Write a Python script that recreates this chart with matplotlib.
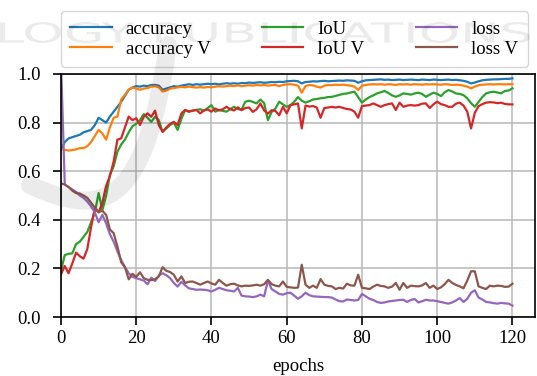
#!/usr/bin/env python3
"""Training curves (accuracy / IoU / loss, train and validation) over epochs."""

import matplotlib
matplotlib.use("Agg")
import matplotlib.pyplot as plt
from matplotlib.patches import PathPatch
from matplotlib.path import Path
from matplotlib.textpath import TextPath
from matplotlib.font_manager import FontProperties
import matplotlib.transforms as mtransforms

FIG_PX = (537, 376)
DPI = 100

# values, one per epoch 0..120
epochs = list(range(121))

accuracy = [
    0.69, 0.72, 0.735, 0.74, 0.745, 0.75, 0.76, 0.765, 0.77, 0.79,
    0.82, 0.81, 0.80, 0.825, 0.845, 0.865, 0.885, 0.91, 0.935, 0.945,
    0.95, 0.948, 0.952, 0.95, 0.955, 0.955, 0.952, 0.935, 0.94, 0.945,
    0.95, 0.948, 0.952, 0.955, 0.958, 0.955, 0.958, 0.956, 0.958, 0.96,
    0.958, 0.96, 0.957, 0.96, 0.962, 0.96, 0.962, 0.96, 0.963, 0.962,
    0.965, 0.963, 0.965, 0.966, 0.964, 0.965, 0.967, 0.966, 0.968, 0.967,
    0.97, 0.971, 0.972, 0.97, 0.961, 0.967, 0.968, 0.97, 0.969, 0.971,
    0.972, 0.97, 0.971, 0.972, 0.973, 0.972, 0.974, 0.973, 0.972, 0.964,
    0.97, 0.974, 0.975, 0.976, 0.977, 0.978, 0.976, 0.977, 0.975, 0.976,
    0.977, 0.975, 0.976, 0.977, 0.976, 0.975, 0.977, 0.976, 0.975, 0.977,
    0.976, 0.975, 0.976, 0.977, 0.975, 0.976, 0.974, 0.972, 0.968, 0.961,
    0.965, 0.97, 0.974, 0.976, 0.977, 0.978, 0.978, 0.979, 0.98, 0.98,
    0.982,
]

accuracy_v = [
    0.69, 0.688, 0.685, 0.687, 0.69, 0.695, 0.695, 0.703, 0.72, 0.745,
    0.77, 0.755, 0.73, 0.78, 0.82, 0.825, 0.895, 0.915, 0.935, 0.945,
    0.94, 0.935, 0.94, 0.942, 0.948, 0.95, 0.945, 0.928, 0.932, 0.94,
    0.942, 0.945, 0.947, 0.945, 0.948, 0.946, 0.944, 0.946, 0.944, 0.947,
    0.945, 0.948, 0.95, 0.948, 0.95, 0.952, 0.95, 0.953, 0.95, 0.952,
    0.954, 0.952, 0.955, 0.953, 0.955, 0.952, 0.954, 0.955, 0.95, 0.955,
    0.957, 0.958, 0.956, 0.952, 0.923, 0.95, 0.955, 0.953, 0.948, 0.944,
    0.952, 0.955, 0.954, 0.956, 0.955, 0.956, 0.954, 0.952, 0.948, 0.934,
    0.952, 0.955, 0.957, 0.958, 0.957, 0.958, 0.956, 0.958, 0.957, 0.955,
    0.958, 0.957, 0.958, 0.956, 0.958, 0.957, 0.956, 0.958, 0.957, 0.958,
    0.957, 0.956, 0.958, 0.957, 0.955, 0.956, 0.955, 0.952, 0.948, 0.941,
    0.948, 0.954, 0.956, 0.957, 0.958, 0.957, 0.958, 0.958, 0.957, 0.958,
    0.958,
]

iou = [
    0.19, 0.255, 0.26, 0.262, 0.30, 0.31, 0.33, 0.35, 0.39, 0.43,
    0.51, 0.44, 0.50, 0.585, 0.62, 0.68, 0.71, 0.73, 0.76, 0.785,
    0.795, 0.81, 0.835, 0.82, 0.803, 0.824, 0.81, 0.762, 0.776, 0.79,
    0.80, 0.77, 0.815, 0.852, 0.845, 0.85, 0.852, 0.855, 0.849, 0.86,
    0.872, 0.845, 0.852, 0.848, 0.845, 0.856, 0.865, 0.855, 0.854, 0.886,
    0.89, 0.885, 0.879, 0.895, 0.88, 0.81, 0.844, 0.858, 0.886, 0.875,
    0.865, 0.872, 0.886, 0.905, 0.89, 0.882, 0.888, 0.895, 0.897, 0.90,
    0.902, 0.905, 0.906, 0.91, 0.914, 0.918, 0.92, 0.924, 0.927, 0.905,
    0.882, 0.895, 0.905, 0.912, 0.92, 0.925, 0.93, 0.922, 0.912, 0.906,
    0.912, 0.92, 0.918, 0.915, 0.92, 0.923, 0.918, 0.906, 0.915, 0.923,
    0.918, 0.909, 0.925, 0.934, 0.928, 0.92, 0.918, 0.913, 0.90, 0.88,
    0.865, 0.885, 0.905, 0.92, 0.925, 0.927, 0.924, 0.92, 0.93, 0.932,
    0.941,
]

iou_v = [
    0.175, 0.21, 0.18, 0.22, 0.265, 0.25, 0.24, 0.28, 0.37, 0.45,
    0.43, 0.47, 0.54, 0.58, 0.64, 0.73, 0.735, 0.78, 0.825, 0.81,
    0.818, 0.79, 0.824, 0.838, 0.824, 0.849, 0.79, 0.762, 0.78, 0.795,
    0.803, 0.79, 0.838, 0.852, 0.845, 0.849, 0.852, 0.838, 0.85, 0.854,
    0.845, 0.858, 0.85, 0.855, 0.865, 0.855, 0.85, 0.863, 0.851, 0.86,
    0.862, 0.844, 0.855, 0.879, 0.85, 0.837, 0.851, 0.848, 0.83, 0.865,
    0.838, 0.872, 0.875, 0.879, 0.776, 0.87, 0.866, 0.868, 0.862, 0.82,
    0.86, 0.862, 0.865, 0.862, 0.865, 0.86, 0.856, 0.854, 0.845, 0.82,
    0.868, 0.87, 0.872, 0.879, 0.872, 0.865, 0.872, 0.876, 0.879, 0.852,
    0.882, 0.865, 0.87, 0.872, 0.87, 0.872, 0.878, 0.879, 0.86, 0.875,
    0.886, 0.876, 0.872, 0.865, 0.865, 0.878, 0.882, 0.87, 0.845, 0.776,
    0.84, 0.868, 0.876, 0.882, 0.884, 0.883, 0.88, 0.882, 0.877, 0.875,
    0.875,
]

loss = [
    1.05, 0.545, 0.535, 0.525, 0.515, 0.50, 0.49, 0.475, 0.455, 0.43,
    0.39, 0.42, 0.385, 0.34, 0.31, 0.27, 0.235, 0.205, 0.18, 0.165,
    0.16, 0.155, 0.15, 0.135, 0.162, 0.148, 0.17, 0.18, 0.172, 0.16,
    0.14, 0.125, 0.145, 0.13, 0.118, 0.115, 0.112, 0.113, 0.112, 0.11,
    0.105, 0.112, 0.12, 0.115, 0.11, 0.108, 0.105, 0.12, 0.088, 0.085,
    0.084, 0.082, 0.085, 0.092, 0.085, 0.15, 0.115, 0.105, 0.095, 0.092,
    0.098, 0.10, 0.088, 0.075, 0.085, 0.10, 0.09, 0.085, 0.084, 0.083,
    0.082, 0.082, 0.08, 0.072, 0.065, 0.064, 0.072, 0.07, 0.068, 0.07,
    0.095, 0.085, 0.075, 0.07, 0.062, 0.058, 0.06, 0.064, 0.066, 0.068,
    0.07, 0.071, 0.062, 0.07, 0.074, 0.06, 0.065, 0.071, 0.068, 0.068,
    0.065, 0.062, 0.058, 0.055, 0.06, 0.068, 0.078, 0.062, 0.075, 0.10,
    0.11, 0.08, 0.072, 0.062, 0.06, 0.057, 0.055, 0.058, 0.056, 0.055,
    0.047,
]

loss_v = [
    0.55, 0.545, 0.535, 0.52, 0.51, 0.508, 0.50, 0.49, 0.47, 0.45,
    0.432, 0.437, 0.42, 0.36, 0.345, 0.29, 0.225, 0.205, 0.155, 0.178,
    0.165, 0.184, 0.16, 0.153, 0.152, 0.155, 0.167, 0.205, 0.19, 0.185,
    0.174, 0.146, 0.167, 0.14, 0.145, 0.146, 0.14, 0.133, 0.14, 0.146,
    0.138, 0.133, 0.153, 0.14, 0.129, 0.135, 0.137, 0.13, 0.126, 0.129,
    0.128, 0.13, 0.133, 0.129, 0.135, 0.153, 0.135, 0.129, 0.126, 0.146,
    0.124, 0.122, 0.12, 0.121, 0.215, 0.133, 0.12, 0.129, 0.12, 0.156,
    0.133, 0.128, 0.126, 0.115, 0.12, 0.117, 0.137, 0.13, 0.129, 0.174,
    0.12, 0.118, 0.115, 0.125, 0.133, 0.128, 0.126, 0.12, 0.125, 0.14,
    0.112, 0.14, 0.12, 0.129, 0.127, 0.126, 0.13, 0.14, 0.12, 0.129,
    0.115, 0.122, 0.135, 0.153, 0.14, 0.132, 0.126, 0.118, 0.15, 0.188,
    0.188, 0.126, 0.12, 0.115, 0.129, 0.126, 0.129, 0.128, 0.124, 0.125,
    0.137,
]

series_labels = ["accuracy", "accuracy V", "IoU", "IoU V", "loss", "loss V"]
series_colors = ["#1f77b4", "#ff7f0e", "#2ca02c", "#d62728", "#9467bd", "#8c564b"]
x_ticks = [0, 20, 40, 60, 80, 100, 120]
y_ticks = [0.0, 0.2, 0.4, 0.6, 0.8, 1.0]
x_label = "epochs"
watermark = "LOGY PUBLICATIONS"

# axes box in pixels (left, top, right, bottom)
AX_PX = (61, 74, 535, 317)
FONT_PT = 13.5


def _px_rect(left, top, right, bottom):
    w, h = FIG_PX
    return [left / w, 1 - bottom / h, (right - left) / w, (bottom - top) / h]


def _px_to_in(x, y):
    return x / DPI, (FIG_PX[1] - y) / DPI


def _add_watermark(fig):
    # faint publisher stamp lying over the page
    prop = FontProperties(family="DejaVu Sans")
    tp = TextPath((0, 0), watermark, size=10, prop=prop)
    ext = tp.get_extents()
    x0, y0 = _px_to_in(0, 43)
    trans = (mtransforms.Affine2D()
             .translate(-ext.x0, -ext.y0)
             .scale(530 / ext.width / DPI, 21 / ext.height / DPI)
             .translate(x0, y0)) + fig.dpi_scale_trans
    fig.patches.append(PathPatch(tp, transform=trans, facecolor="#000000",
                                 edgecolor="none", alpha=0.08, zorder=10))

    # the logo swoosh crossing the left of the plot
    pts = [(168, 45), (145, 205), (105, 220), (30, 185)]
    verts = [_px_to_in(x, y) for x, y in pts]
    codes = [Path.MOVETO, Path.CURVE4, Path.CURVE4, Path.CURVE4]
    fig.patches.append(PathPatch(Path(verts, codes), transform=fig.dpi_scale_trans,
                                 facecolor="none", edgecolor="#000000", linewidth=13,
                                 alpha=0.08, capstyle="round", zorder=10))


def main():
    plt.rcParams.update({
        "font.family": ["Liberation Serif", "DejaVu Serif"],
        "font.size": FONT_PT,
        "axes.linewidth": 1.2,
        "xtick.major.width": 1.2,
        "ytick.major.width": 1.2,
        "xtick.major.size": 5.5,
        "ytick.major.size": 5.5,
    })
    fig = plt.figure(figsize=(FIG_PX[0] / DPI, FIG_PX[1] / DPI), dpi=DPI, facecolor="white")
    ax = fig.add_axes(_px_rect(*AX_PX))

    data = [accuracy, accuracy_v, iou, iou_v, loss, loss_v]
    for values, label, color in zip(data, series_labels, series_colors):
        ax.plot(epochs, values, color=color, linewidth=1.6, label=label)

    ax.set_xlim(0, 126)
    ax.set_ylim(0, 1.0)
    ax.set_xticks(x_ticks)
    ax.set_yticks(y_ticks)
    ax.set_yticklabels([f"{v:.1f}" for v in y_ticks])
    ax.tick_params(colors="black", labelsize=FONT_PT)
    ax.tick_params(axis="x", pad=4)
    ax.tick_params(axis="y", pad=9)
    ax.grid(True, color="#b8b8b8", linewidth=1.1)
    ax.set_axisbelow(True)
    ax.set_xlabel(x_label, fontsize=FONT_PT, labelpad=8)

    ax.legend(loc="lower left", bbox_to_anchor=(0, 1.029), ncol=3,
              borderaxespad=0, fontsize=FONT_PT, handlelength=2.2,
              handletextpad=0.75, labelspacing=0.15, borderpad=0.5,
              columnspacing=2.75, frameon=True, edgecolor="#cccccc")

    _add_watermark(fig)
    fig.savefig("out.png", dpi=DPI, facecolor="white")
    plt.close(fig)


if __name__ == "__main__":
    main()
